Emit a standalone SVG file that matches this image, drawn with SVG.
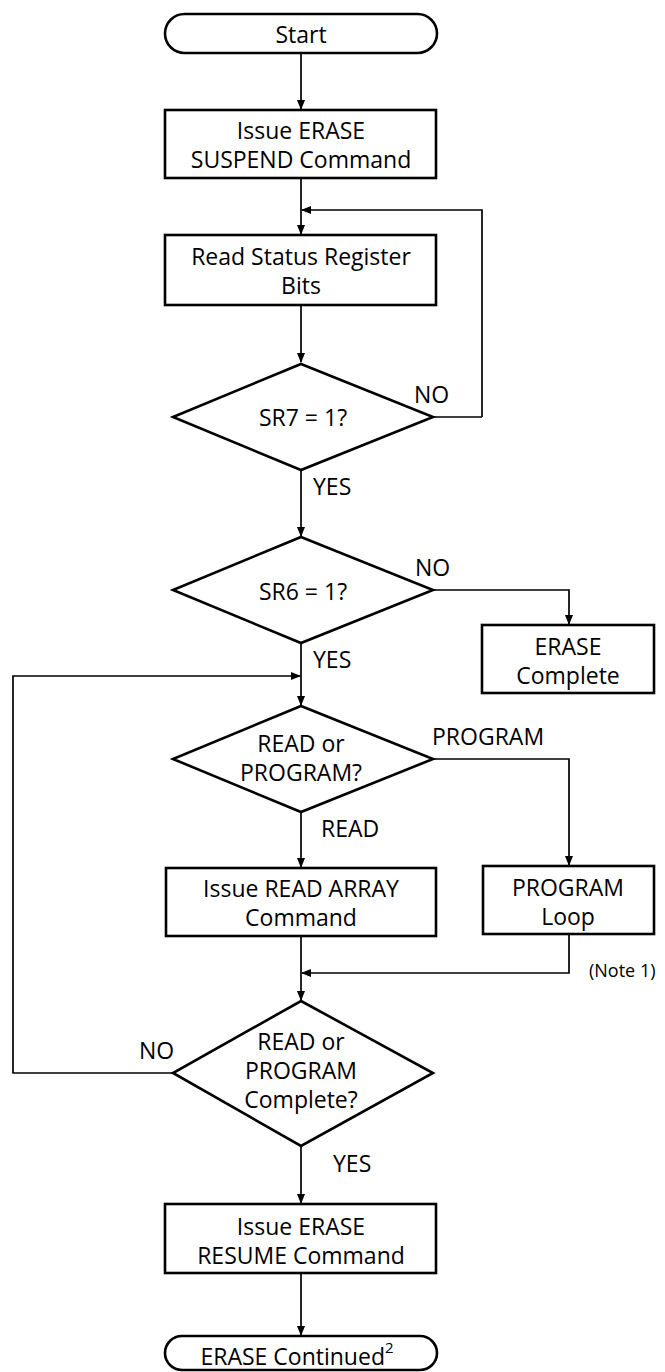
<svg xmlns="http://www.w3.org/2000/svg" width="665" height="1372" viewBox="0 0 665 1372">
<defs>
<marker id="ah" markerWidth="10" markerHeight="10" refX="9" refY="5" orient="auto" markerUnits="userSpaceOnUse">
<path d="M0,1 L10,5 L0,9 Z" fill="#000"/>
</marker>
<style>
.n{fill:#fff;stroke:#000;stroke-width:2.6}
.c{fill:none;stroke:#000;stroke-width:1.7}
text{font-family:"Open Sans","Noto Sans","Liberation Sans",sans-serif;font-size:23px;fill:#000;text-anchor:middle;dominant-baseline:central}
.l{text-anchor:start}
.s{font-size:18px}
</style>
</defs>
<rect width="665" height="1372" fill="#fff"/>
<g id="connectors">
<path class="c" d="M301,53 V109" marker-end="url(#ah)"/>
<path class="c" d="M301,178 V234" marker-end="url(#ah)"/>
<path class="c" d="M482,417 V210 H302" marker-end="url(#ah)"/>
<path class="c" d="M433,417 H482"/>
<path class="c" d="M301,305 V362" marker-end="url(#ah)"/>
<path class="c" d="M301,470 V536" marker-end="url(#ah)"/>
<path class="c" d="M433,590 H569 V624" marker-end="url(#ah)"/>
<path class="c" d="M301,643 V705" marker-end="url(#ah)"/>
<path class="c" d="M173,1073 H13 V676 H300" marker-end="url(#ah)"/>
<path class="c" d="M433,759 H569 V865" marker-end="url(#ah)"/>
<path class="c" d="M301,812 V867" marker-end="url(#ah)"/>
<path class="c" d="M569,934 V973 H302" marker-end="url(#ah)"/>
<path class="c" d="M301,936 V1000" marker-end="url(#ah)"/>
<path class="c" d="M301,1146 V1203" marker-end="url(#ah)"/>
<path class="c" d="M301,1273 V1335" marker-end="url(#ah)"/>
</g>
<g id="start">
<rect class="n" x="165" y="14" width="272" height="39" rx="19.5"/>
<text x="301" y="34">Start</text>
</g>
<g id="suspend">
<rect class="n" x="165" y="110" width="271" height="68"/>
<text x="301" y="130">Issue ERASE</text>
<text x="301" y="159">SUSPEND Command</text>
</g>
<g id="readstatus">
<rect class="n" x="165" y="235" width="271" height="70"/>
<text x="301" y="256">Read Status Register</text>
<text x="301" y="285">Bits</text>
</g>
<g id="sr7">
<path class="n" d="M301,364 L433,417 L301,470 L173,417 Z"/>
<text x="303" y="417">SR7 = 1?</text>
</g>
<g id="sr6">
<path class="n" d="M301,537 L433,590 L301,643 L173,590 Z"/>
<text x="303" y="591">SR6 = 1?</text>
</g>
<g id="erasecomplete">
<rect class="n" x="482" y="625" width="172" height="68"/>
<text x="568" y="646">ERASE</text>
<text x="568" y="675">Complete</text>
</g>
<g id="readorprogram">
<path class="n" d="M301,706 L433,759 L301,812 L173,759 Z"/>
<text x="301" y="743">READ or</text>
<text x="301" y="772">PROGRAM?</text>
</g>
<g id="readarray">
<rect class="n" x="166" y="868" width="270" height="68"/>
<text x="301" y="888">Issue READ ARRAY</text>
<text x="301" y="917">Command</text>
</g>
<g id="programloop">
<rect class="n" x="483" y="866" width="171" height="68"/>
<text x="568" y="887">PROGRAM</text>
<text x="568" y="916">Loop</text>
</g>
<g id="complete">
<path class="n" d="M301,1001 L433,1073 L301,1146 L173,1073 Z"/>
<text x="301" y="1041">READ or</text>
<text x="301" y="1070">PROGRAM</text>
<text x="301" y="1099">Complete?</text>
</g>
<g id="resume">
<rect class="n" x="165" y="1204" width="271" height="69"/>
<text x="301" y="1226">Issue ERASE</text>
<text x="301" y="1255">RESUME Command</text>
</g>
<g id="continued">
<rect class="n" x="165" y="1336" width="272" height="34" rx="17"/>
<text x="297" y="1356">ERASE Continued<tspan font-size="15" dy="-9">2</tspan></text>
</g>
<g id="labels">
<text class="l" x="414" y="394">NO</text>
<text class="l" x="313" y="486">YES</text>
<text class="l" x="415" y="567">NO</text>
<text class="l" x="313" y="659">YES</text>
<text class="l" x="432" y="736">PROGRAM</text>
<text class="l" x="321" y="828">READ</text>
<text class="l s" x="589" y="970">(Note 1)</text>
<text class="l" x="139" y="1050">NO</text>
<text class="l" x="333" y="1163">YES</text>
</g>
</svg>
